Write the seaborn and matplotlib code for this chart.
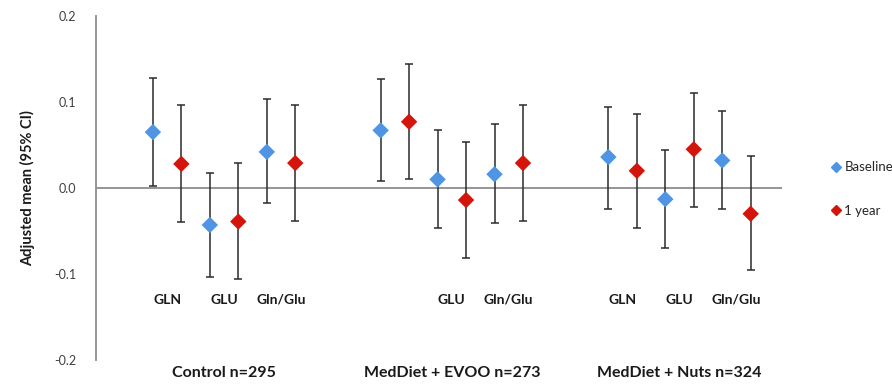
import numpy as np
import pandas as pd
import seaborn as sns
import matplotlib.pyplot as plt

sns.set_style("white")
plt.rcParams['font.family'] = ['Lato', 'DejaVu Sans']

# data
groups = ["Control n=295", "MedDiet + EVOO n=273", "MedDiet + Nuts n=324"]
metabolites = ["GLN", "GLU", "Gln/Glu"]
times = ["Baseline", "1 year"]

# order: per group -> metabolite -> (baseline, 1 year)
means = [0.065, 0.028, -0.043, -0.039, 0.042, 0.029,
         0.067, 0.077, 0.010, -0.014, 0.016, 0.029,
         0.036, 0.020, -0.013, 0.045, 0.032, -0.030]
ci_low = [0.002, -0.039, -0.103, -0.106, -0.018, -0.038,
          0.008, 0.010, -0.047, -0.081, -0.041, -0.038,
          -0.024, -0.046, -0.070, -0.022, -0.025, -0.095]
ci_high = [0.128, 0.096, 0.018, 0.029, 0.103, 0.097,
           0.127, 0.144, 0.067, 0.054, 0.074, 0.096,
           0.094, 0.086, 0.044, 0.111, 0.089, 0.037]

# metabolite labels shown under each group (EVOO has no GLN label in the original)
shown_labels = [["GLN", "GLU", "Gln/Glu"], ["", "GLU", "Gln/Glu"], ["GLN", "GLU", "Gln/Glu"]]

rows = []
k = 0
for g_i, g in enumerate(groups):
    for m_i, m in enumerate(metabolites):
        for t_i, t in enumerate(times):
            rows.append({"group": g, "metabolite": m, "time": t,
                         "x": g_i * 8 + m_i * 2 + t_i,
                         "mean": means[k], "lo": ci_low[k], "hi": ci_high[k]})
            k += 1
df = pd.DataFrame(rows)

fig = plt.figure(figsize=(8.92, 3.86), dpi=100)
ax = fig.add_axes([0.1076, 0.0674, 0.8767 - 0.1076, 0.9585 - 0.0674])

ax.errorbar(df["x"], df["mean"],
            yerr=[df["mean"] - df["lo"], df["hi"] - df["mean"]],
            fmt="none", ecolor="#2b2b2b", elinewidth=1.1, capsize=3, capthick=1.1, zorder=2)

palette = {"Baseline": "#4f95e3", "1 year": "#d4150c"}
sns.scatterplot(data=df, x="x", y="mean", hue="time", palette=palette,
                marker="D", s=70, edgecolor="none", ax=ax, zorder=3, legend=False)

ax.axhline(0, color="#8c8c8c", linewidth=1.3, zorder=1)
ax.set_xlim(-2, 22.1)
ax.set_ylim(-0.2, 0.2)
ax.set_yticks([-0.2, -0.1, 0.0, 0.1, 0.2])
ax.set_yticklabels(["-0.2", "-0.1", "0.0", "0.1", "0.2"], color="#404040", fontsize=9)
ax.tick_params(axis="y", length=0, pad=14)

for s in ["top", "right", "bottom"]:
    ax.spines[s].set_visible(False)
ax.spines["left"].set_color("#8c8c8c")
ax.spines["left"].set_linewidth(1.3)

# group names as x tick labels
ax.set_xticks([g_i * 8 + 2.5 for g_i in range(len(groups))])
ax.set_xticklabels(groups, fontsize=11.5, fontweight="bold", color="#1a1a1a")
ax.tick_params(axis="x", length=0, pad=4)
ax.set_xlabel("")

# metabolite labels inside plot
for g_i, labs in enumerate(shown_labels):
    for m_i, lab in enumerate(labs):
        if lab:
            ax.text(g_i * 8 + m_i * 2 + 0.5, -0.130, lab, ha="center", va="center",
                    fontsize=10, fontweight="bold", color="#1a1a1a")

ax.set_ylabel("Adjusted mean (95% CI)", fontsize=10.5, fontweight="bold", color="#1a1a1a", labelpad=14)

handles = [plt.Line2D([], [], marker="D", linestyle="none", color=palette[t], markersize=5) for t in times]
fig.legend(handles, times, loc="center left", bbox_to_anchor=(0.917, 0.51), frameon=False,
           fontsize=9.5, labelspacing=2.4, handletextpad=0.1, handlelength=1.0)

fig.savefig("out.png", dpi=100)
